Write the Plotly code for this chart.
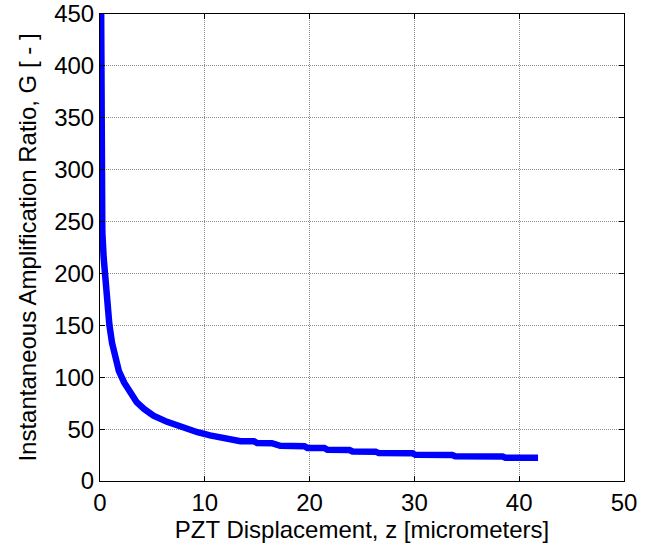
import plotly.graph_objects as go

# PZT displacement z [micrometers] and instantaneous amplification ratio G
z_um = [0.10, 0.10, 0.15, 0.15, 0.22, 0.35, 0.50, 0.68, 0.90, 1.15, 1.45, 1.80,
        2.30, 2.90, 3.50, 4.20, 5.10, 6.40, 7.70, 9.30, 10.5, 12.1, 13.4,
        14.7, 15.0, 16.4, 16.8, 17.2, 19.5, 19.8, 21.4, 21.7, 23.8, 24.1,
        26.3, 26.6, 29.8, 30.1, 33.6, 33.9, 38.4, 38.7, 41.8]
gain = [470, 365, 355, 268, 240, 215, 192, 170, 150, 133, 118, 106,
        95, 84, 76, 69.5, 63, 57, 52, 47, 44, 40.8, 38.3,
        38.2, 36.6, 36.4, 35.0, 33.9, 33.6, 31.9, 31.8, 30.0, 29.9, 28.4,
        28.3, 26.9, 26.8, 25.2, 25.1, 23.8, 23.7, 22.4, 22.3]

x_ticks = [0, 10, 20, 30, 40, 50]
y_ticks = [0, 50, 100, 150, 200, 250, 300, 350, 400, 450]

FONT = "Arial, Liberation Sans, sans-serif"

fig = go.Figure(
    go.Scatter(
        x=z_um, y=gain, mode="lines",
        line=dict(color="#0000ff", width=6.5),
        showlegend=False,
    )
)

axis_common = dict(
    showline=True, linecolor="black", linewidth=1, mirror="ticks",
    ticks="inside", ticklen=5, tickcolor="black", tickwidth=1,
    showgrid=True, gridcolor="#8c8c8c", griddash="1px,1px", gridwidth=1,
    zeroline=False,
    tickfont=dict(family=FONT, size=24, color="black"),
)

fig.update_xaxes(
    range=[0, 50], tickvals=x_ticks,
    title=dict(text="PZT Displacement, z [micrometers]",
               font=dict(family=FONT, size=24, color="black"), standoff=4),
    **axis_common,
)
fig.update_yaxes(
    range=[0, 450], tickvals=y_ticks,
    title=dict(text="Instantaneous Amplification Ratio, G [ - ]",
               font=dict(family=FONT, size=24, color="black"), standoff=10),
    **axis_common,
)

fig.update_layout(
    width=656, height=550,
    margin=dict(l=100, r=32, t=14, b=69, autoexpand=False),
    plot_bgcolor="white", paper_bgcolor="white",
    font=dict(family=FONT, size=24, color="black"),
)

fig.write_html("out.html")
